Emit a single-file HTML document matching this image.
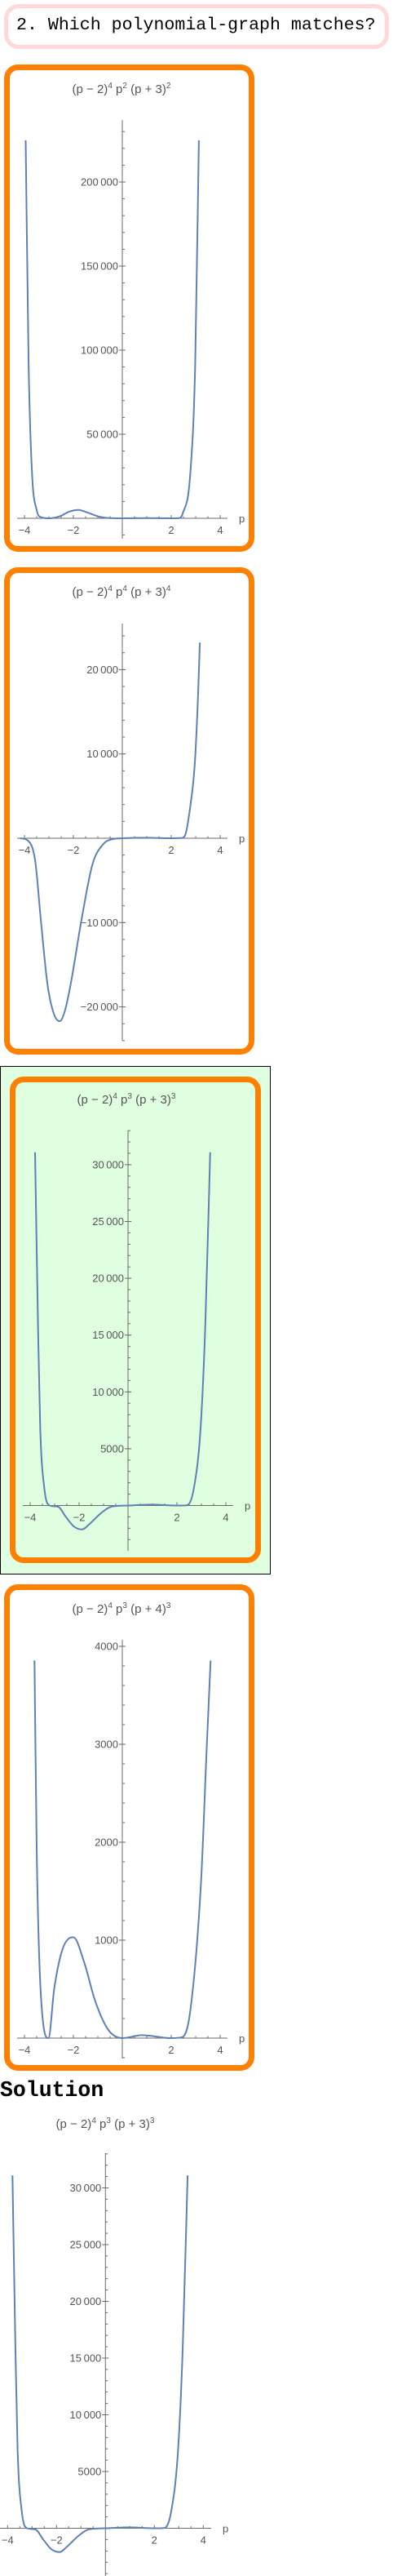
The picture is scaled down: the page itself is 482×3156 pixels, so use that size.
<!DOCTYPE html>
<html><head><meta charset="utf-8"><style>
html,body{margin:0;padding:0;background:#fff;}
body{width:482px;height:3156px;position:relative;overflow:hidden;}
.hdr{position:absolute;left:5px;top:5px;width:462px;height:45px;border:5px solid #ffd9d9;border-radius:18px;background:#fff;}
.hdr span{position:absolute;left:10px;top:9px;font:21.6px "Liberation Mono",monospace;color:#000;white-space:pre;}
.green{position:absolute;left:0;top:1306px;width:330px;height:621px;background:#e0ffe0;border:1px solid #000;}
.obox{position:absolute;border:7px solid #ff8000;border-radius:17px;box-sizing:border-box;}
.sol{position:absolute;left:0;top:2546px;font:bold 26.5px "Liberation Mono",monospace;color:#000;}
svg{position:absolute;left:0;top:0;}
</style></head><body>
<div class="hdr"><span>2. Which polynomial-graph matches?</span></div>
<div class="green"></div>
<div class="obox" style="left:5px;top:79px;width:307px;height:597px"></div>
<div class="obox" style="left:5px;top:695px;width:307px;height:597px"></div>
<div class="obox" style="left:12px;top:1319px;width:308px;height:596px"></div>
<div class="obox" style="left:5px;top:1941px;width:307px;height:596px"></div>
<div class="sol">Solution</div>
<svg id="s" width="482" height="3156" font-family="Liberation Sans, sans-serif">
<g fill="#555" font-size="15" text-anchor="middle">
<text x="149" y="114">(p − 2)<tspan dy="-6" font-size="10">4</tspan><tspan dy="6"> p</tspan><tspan dy="-6" font-size="10">2</tspan><tspan dy="6"> (p + 3)</tspan><tspan dy="-6" font-size="10">2</tspan></text>
<text x="149" y="730">(p − 2)<tspan dy="-6" font-size="10">4</tspan><tspan dy="6"> p</tspan><tspan dy="-6" font-size="10">4</tspan><tspan dy="6"> (p + 3)</tspan><tspan dy="-6" font-size="10">4</tspan></text>
<text x="155" y="1352">(p − 2)<tspan dy="-6" font-size="10">4</tspan><tspan dy="6"> p</tspan><tspan dy="-6" font-size="10">3</tspan><tspan dy="6"> (p + 3)</tspan><tspan dy="-6" font-size="10">3</tspan></text>
<text x="149" y="1976">(p − 2)<tspan dy="-6" font-size="10">4</tspan><tspan dy="6"> p</tspan><tspan dy="-6" font-size="10">3</tspan><tspan dy="6"> (p + 4)</tspan><tspan dy="-6" font-size="10">3</tspan></text>
<text x="129" y="2607">(p − 2)<tspan dy="-6" font-size="10">4</tspan><tspan dy="6"> p</tspan><tspan dy="-6" font-size="10">3</tspan><tspan dy="6"> (p + 3)</tspan><tspan dy="-6" font-size="10">3</tspan></text>
</g>
</svg>
<script>
// ---- data ----
const c1P = [-3.95,-3.83,-3.69,-3.5,-3.33,-3.0,-2.5,-2.2,-1.8,-1.4,-1.0,-0.6,0,1,2,2.3,2.47,2.78,2.98,3.13];
const c1V = [224800,91700,26700,4900,700,0,1500,3800,5000,3300,1200,200,0,100,0,50,2900,26700,91700,224800];
const c1YTicks = [50000,100000,150000,200000];
const c1YLabels = ["50\u2009000","100\u2009000","150\u2009000","200\u2009000"];
const c2P = [-4.17,-3.85,-3.56,-3.33,-3.06,-2.8,-2.56,-2.35,-2.11,-1.67,-1.22,-0.78,-0.4,0,1,2,2.4,2.56,2.78,2.96,3.09,3.17];
const c2V = [0,-300,-2700,-9700,-17300,-20800,-21700,-20500,-17300,-9700,-3100,-700,-100,0,60,0,20,300,3800,8700,16400,23200];
const c2YTicks = [-20000,-10000,10000,20000];
const c2YLabels = ["\u221220\u2009000","\u221210\u2009000","10\u2009000","20\u2009000"];
const c3P = [-3.8,-3.68,-3.59,-3.42,-3.2,-2.87,-2.54,-2.21,-1.88,-1.56,-1.12,-0.68,0,1,2,2.4,2.69,2.97,3.16,3.36];
const c3V = [31100,15900,6900,1500,0,-100,-1000,-1850,-2100,-1600,-700,-100,0,80,0,20,1500,6900,15900,31100];
const c3YTicks = [5000,10000,15000,20000,25000,30000];
const c3YLabels = ["5000","10\u2009000","15\u2009000","20\u2009000","25\u2009000","30\u2009000"];
const c4P = [-3.59,-3.5,-3.33,-3.02,-2.78,-2.44,-2.0,-1.56,-1.11,-0.56,0,0.8,2.0,2.45,2.78,3.22,3.44,3.61];
const c4V = [3855,1930,445,0,510,910,1030,775,380,80,0,30,0,10,280,1600,2900,3855];
const c4YTicks = [1000,2000,3000,4000];
const c4YLabels = ["1000","2000","3000","4000"];
const xTicks = [-4,-2,2,4];
const xLabels = ["\u22124","\u22122","2","4"];

const charts = [
 {n:'chart-1',P:c1P,V:c1V,yt:c1YTicks,yl:c1YLabels,minor:10000,x0:150,y0:635,sy:103/50000,top:147,bot:660,xl:21,xr:279},
 {n:'chart-2',P:c2P,V:c2V,yt:c2YTicks,yl:c2YLabels,minor:2000,x0:150,y0:1027,sy:103.3/10000,top:764,bot:1275,xl:21,xr:279},
 {n:'chart-3',P:c3P,V:c3V,yt:c3YTicks,yl:c3YLabels,minor:1000,x0:157,y0:1844.5,sy:13.92/1000,top:1385,bot:1900,xl:28,xr:286},
 {n:'chart-4',P:c4P,V:c4V,yt:c4YTicks,yl:c4YLabels,minor:200,x0:150,y0:2497,sy:0.12,top:2009,bot:2522,xl:21,xr:279},
 {n:'solution-chart',P:c3P,V:c3V,yt:c3YTicks,yl:c3YLabels,minor:1000,x0:129.3,y0:3097.5,sy:13.9/1000,top:2638,bot:3156,xl:0,xr:259}
];
const svg = document.getElementById('s');
const NS = 'http://www.w3.org/2000/svg';
function mk(tag, attrs){const e=document.createElementNS(NS,tag);for(const k in attrs)e.setAttribute(k,attrs[k]);return e;}
function monoPath(xs, ys){
  const n=xs.length, d=[], m=new Array(n);
  for(let i=0;i<n-1;i++) d.push((ys[i+1]-ys[i])/(xs[i+1]-xs[i]));
  m[0]=d[0]; m[n-1]=d[n-2];
  for(let i=1;i<n-1;i++){ m[i] = (d[i-1]*d[i]<=0)?0:(d[i-1]+d[i])/2; }
  for(let i=0;i<n-1;i++){
    if(d[i]===0){m[i]=0;m[i+1]=0;continue;}
    const a=m[i]/d[i], b=m[i+1]/d[i], s=a*a+b*b;
    if(s>9){const t=3/Math.sqrt(s);m[i]=t*a*d[i];m[i+1]=t*b*d[i];}
  }
  let p='M'+xs[0].toFixed(2)+','+ys[0].toFixed(2);
  for(let i=0;i<n-1;i++){
    const h=(xs[i+1]-xs[i])/3;
    p+='C'+(xs[i]+h).toFixed(2)+','+(ys[i]+m[i]*h).toFixed(2)+' '+(xs[i+1]-h).toFixed(2)+','+(ys[i+1]-m[i+1]*h).toFixed(2)+' '+xs[i+1].toFixed(2)+','+ys[i+1].toFixed(2);
  }
  return p;
}
charts.forEach(c=>{
  const X = p => c.x0 + p*30;
  const Y = v => c.y0 - v*c.sy;
  const g = mk('g',{});
  
  
  svg.appendChild(g);
  const ax = mk('line',{x1:c.xl,x2:c.xr,y1:c.y0,y2:c.y0,stroke:'#6b6b6b','stroke-width':1});
  
  
  g.appendChild(ax);
  const ay = mk('line',{x1:c.x0,x2:c.x0,y1:c.top,y2:c.bot,stroke:'#6b6b6b','stroke-width':1});
  
  
  g.appendChild(ay);
  // x ticks
  for(let p=-4;p<=4.001;p+=0.5){
    if(Math.abs(p)<0.01) continue;
    const maj = Math.abs(p%2)<0.01;
    g.appendChild(mk('line',{x1:X(p),x2:X(p),y1:c.y0,y2:c.y0-(maj?4:2.5),stroke:'#6b6b6b','stroke-width':1}));
  }
  xTicks.forEach((p,i)=>{
    const t = mk('text',{x:X(p),y:c.y0+19,'font-size':13,fill:'#555','text-anchor':'middle'});
    
    
    t.textContent = xLabels[i];
    g.appendChild(t);
  });
  const pl = mk('text',{x:c.xr+14,y:c.y0+5,'font-size':13,fill:'#555'});
  
  
  pl.textContent='p';
  g.appendChild(pl);
  // y minor ticks
  const vTop=(c.y0-c.top)/c.sy, vBot=(c.y0-c.bot)/c.sy;
  for(let k=Math.ceil(vBot/c.minor);k*c.minor<=vTop;k++){
    if(k===0) continue;
    const y=Y(k*c.minor);
    g.appendChild(mk('line',{x1:c.x0,x2:c.x0+3,y1:y,y2:y,stroke:'#6b6b6b','stroke-width':1}));
  }
  c.yt.forEach((v,i)=>{
    const y=Y(v);
    g.appendChild(mk('line',{x1:c.x0-4,x2:c.x0+4,y1:y,y2:y,stroke:'#6b6b6b','stroke-width':1}));
    const t = mk('text',{x:c.x0-5,y:y+4.5,'font-size':13,fill:'#555','text-anchor':'end'});
    
    
    t.textContent = c.yl[i];
    g.appendChild(t);
  });
  const path = mk('path',{d:monoPath(c.P.map(X), c.V.map(Y)),fill:'none',stroke:'#5e81b5','stroke-width':2,'stroke-linejoin':'round'});
  
  
  g.appendChild(path);
});
</script>
</body></html>
